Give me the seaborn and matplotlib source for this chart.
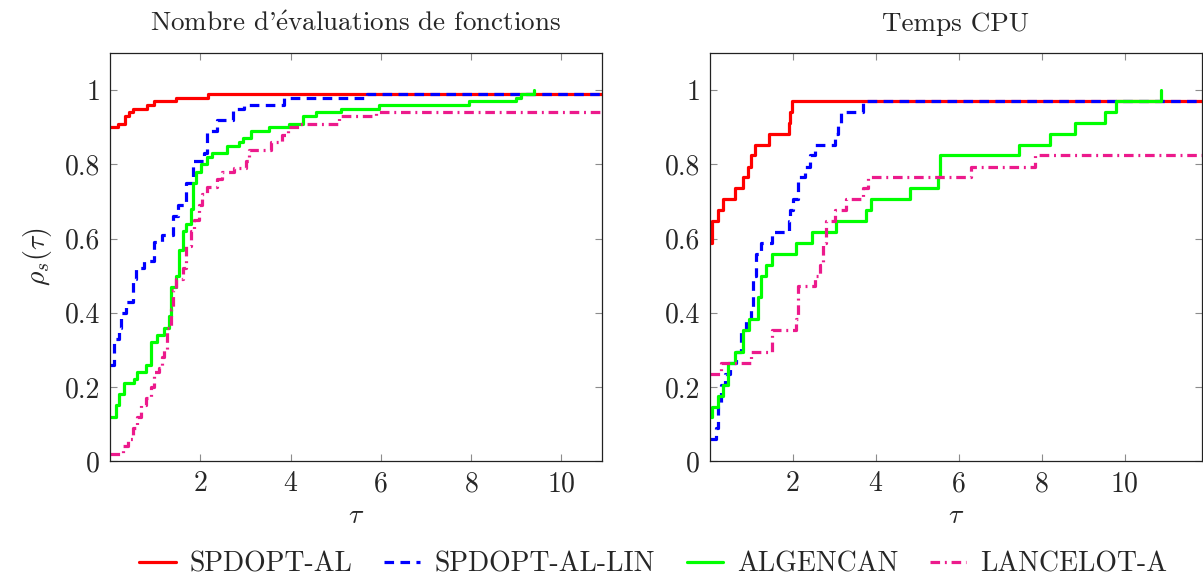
import pandas as pd
import numpy as np
import seaborn as sns
import matplotlib.pyplot as plt

# solver names and colors
solvers = ['SPDOPT-AL', 'SPDOPT-AL-LIN', 'ALGENCAN', 'LANCELOT-A']
colors = {'SPDOPT-AL': '#ff0000', 'SPDOPT-AL-LIN': '#0000ff',
          'ALGENCAN': '#00ff00', 'LANCELOT-A': '#ec1a8c'}
dashes = {'SPDOPT-AL': '', 'SPDOPT-AL-LIN': (3, 2),
          'ALGENCAN': '', 'LANCELOT-A': (3, 1.5, 0.6, 1.5)}

titles = [r"Nombre d'$\mathrm{\acute{e}}$valuations de fonctions", 'Temps CPU']
xmax = [10.9, 11.86]

# --- function evaluations panel (tau, rho) ---
fe_al_tau = [0, 0.17, 0.33, 0.42, 0.5, 0.83, 0.98, 1.46, 2.18, 11]
fe_al_rho = [0.90, 0.91, 0.93, 0.94, 0.95, 0.96, 0.97, 0.98, 0.99, 0.99]

fe_lin_tau = [0, 0.09, 0.2, 0.24, 0.35, 0.5, 0.57, 0.76, 0.98, 1.16, 1.39, 1.5,
              1.68, 1.83, 2.09, 2.16, 2.38, 2.72, 2.98, 3.86, 5.7, 11]
fe_lin_rho = [0.26, 0.33, 0.36, 0.40, 0.43, 0.49, 0.52, 0.54, 0.59, 0.61, 0.66, 0.69,
              0.75, 0.81, 0.83, 0.89, 0.92, 0.95, 0.96, 0.98, 0.99, 0.99]

fe_alg_tau = [0, 0.13, 0.2, 0.31, 0.54, 0.61, 0.8, 0.91, 1.05, 1.2, 1.3, 1.35, 1.46,
              1.53, 1.61, 1.68, 1.79, 1.83, 1.9, 2.02, 2.16, 2.27, 2.6, 2.86, 2.94,
              3.12, 3.53, 3.97, 4.27, 4.57, 5.12, 5.97, 7.96, 9.0, 9.11, 9.4]
fe_alg_rho = [0.12, 0.15, 0.18, 0.21, 0.22, 0.24, 0.26, 0.32, 0.34, 0.36, 0.39, 0.47, 0.50,
              0.57, 0.62, 0.64, 0.68, 0.75, 0.78, 0.80, 0.82, 0.83, 0.85, 0.86, 0.87,
              0.89, 0.90, 0.91, 0.93, 0.94, 0.95, 0.96, 0.97, 0.98, 0.99, 1.0]

fe_lan_tau = [0, 0.28, 0.39, 0.5, 0.61, 0.68, 0.8, 0.91, 0.98, 1.09, 1.16, 1.2, 1.27,
              1.35, 1.39, 1.46, 1.61, 1.68, 1.79, 1.87, 1.98, 2.05, 2.16, 2.38, 2.49,
              2.75, 3.01, 3.09, 3.57, 3.82, 3.94, 4.2, 5.08, 5.9, 11]
fe_lan_rho = [0.02, 0.04, 0.06, 0.09, 0.12, 0.15, 0.17, 0.20, 0.24, 0.25, 0.28, 0.30, 0.36,
              0.41, 0.46, 0.49, 0.52, 0.58, 0.62, 0.65, 0.69, 0.72, 0.74, 0.76, 0.78,
              0.79, 0.81, 0.84, 0.86, 0.88, 0.90, 0.91, 0.93, 0.94, 0.94]

# --- CPU time panel (tau, rho) ---
cpu_al_tau = [0, 0.05, 0.2, 0.31, 0.6, 0.8, 0.92, 1.0, 1.08, 1.43, 1.91, 1.94, 1.99, 12]
cpu_al_rho = [0.588, 0.647, 0.676, 0.706, 0.735, 0.765, 0.794, 0.824, 0.853, 0.882,
              0.912, 0.941, 0.971, 0.971]

cpu_lin_tau = [0, 0.16, 0.2, 0.28, 0.36, 0.48, 0.64, 0.76, 0.88, 1.0, 1.04, 1.12, 1.24,
               1.49, 1.91, 1.93, 2.01, 2.13, 2.29, 2.41, 2.53, 3.01, 3.09, 3.17, 3.69, 12]
cpu_lin_rho = [0.06, 0.088, 0.147, 0.206, 0.235, 0.265, 0.294, 0.353, 0.382, 0.412, 0.5,
               0.559, 0.588, 0.618, 0.647, 0.676, 0.706, 0.765, 0.794, 0.824, 0.853,
               0.882, 0.912, 0.941, 0.971, 0.971]

cpu_alg_tau = [0, 0.05, 0.2, 0.32, 0.44, 0.6, 0.8, 0.95, 1.16, 1.24, 1.36, 1.49, 2.07, 2.47,
               3.05, 3.77, 3.89, 4.82, 5.5, 5.54, 7.45, 8.19, 8.8, 9.53, 9.8, 10.88]
cpu_alg_rho = [0.118, 0.147, 0.176, 0.206, 0.265, 0.294, 0.353, 0.382, 0.441, 0.5, 0.529,
               0.559, 0.588, 0.618, 0.647, 0.676, 0.706, 0.735, 0.765, 0.824, 0.853,
               0.882, 0.912, 0.941, 0.971, 1.0]

cpu_lan_tau = [0, 0.28, 1.0, 1.49, 2.09, 2.13, 2.53, 2.65, 2.73, 2.81, 3.01, 3.29, 3.69,
               3.81, 6.3, 7.83, 12]
cpu_lan_rho = [0.235, 0.265, 0.294, 0.353, 0.382, 0.471, 0.5, 0.529, 0.588, 0.647, 0.676,
               0.706, 0.735, 0.765, 0.794, 0.824, 0.824]


def to_frame(taus, rhos):
    '''
    Build a long dataframe for one panel
    '''
    frames = []
    for name, t, r in zip(solvers, taus, rhos):
        frames.append(pd.DataFrame({'tau': t, 'rho': r, 'solver': name}))
    return pd.concat(frames, ignore_index=True)


panels = [
    to_frame([fe_al_tau, fe_lin_tau, fe_alg_tau, fe_lan_tau],
             [fe_al_rho, fe_lin_rho, fe_alg_rho, fe_lan_rho]),
    to_frame([cpu_al_tau, cpu_lin_tau, cpu_alg_tau, cpu_lan_tau],
             [cpu_al_rho, cpu_lin_rho, cpu_alg_rho, cpu_lan_rho]),
]

sns.set_style('ticks')
plt.rcParams['font.family'] = ['cmr10', 'DejaVu Serif']
plt.rcParams['mathtext.fontset'] = 'cm'
plt.rcParams['axes.formatter.use_mathtext'] = True

fig = plt.figure(figsize=(12.03, 5.77), dpi=100)
axes = [fig.add_axes([0.0914, 0.201, 0.409, 0.707]),
        fig.add_axes([0.590, 0.201, 0.409, 0.707])]

for i, (ax, df) in enumerate(zip(axes, panels)):
    sns.lineplot(data=df, x='tau', y='rho', hue='solver', style='solver',
                 hue_order=solvers, style_order=solvers, palette=colors,
                 dashes=dashes, estimator=None, sort=False, drawstyle='steps-post',
                 linewidth=2.3, ax=ax, legend=(i == 0))
    ax.set_xlim(0, xmax[i])
    ax.set_ylim(0, 1.1)
    ax.set_xticks([2, 4, 6, 8, 10])
    ax.set_yticks([0, 0.2, 0.4, 0.6, 0.8, 1.0])
    ax.set_yticklabels(['0', '0.2', '0.4', '0.6', '0.8', '1'])
    ax.tick_params(direction='in', top=True, right=True, length=5, width=0.8,
                   color='0.55', labelsize=20, pad=7)
    for spine in ax.spines.values():
        spine.set_color('#222222')
        spine.set_linewidth(0.9)
    ax.set_xlabel(r'$\tau$', fontsize=20, labelpad=4)
    ax.set_ylabel('')
    ax.set_title(titles[i], fontsize=19.5, pad=16)

axes[0].set_ylabel(r'$\rho_s(\tau)$', fontsize=20, labelpad=8)

handles, labels = axes[0].get_legend_handles_labels()
axes[0].get_legend().remove()
fig.legend(handles, labels, loc='lower center', ncol=4, frameon=False,
           bbox_to_anchor=(0.543, -0.045), fontsize=20, handlelength=1.3,
           handletextpad=0.5, columnspacing=1.15)

plt.savefig('out.png', dpi=100)
